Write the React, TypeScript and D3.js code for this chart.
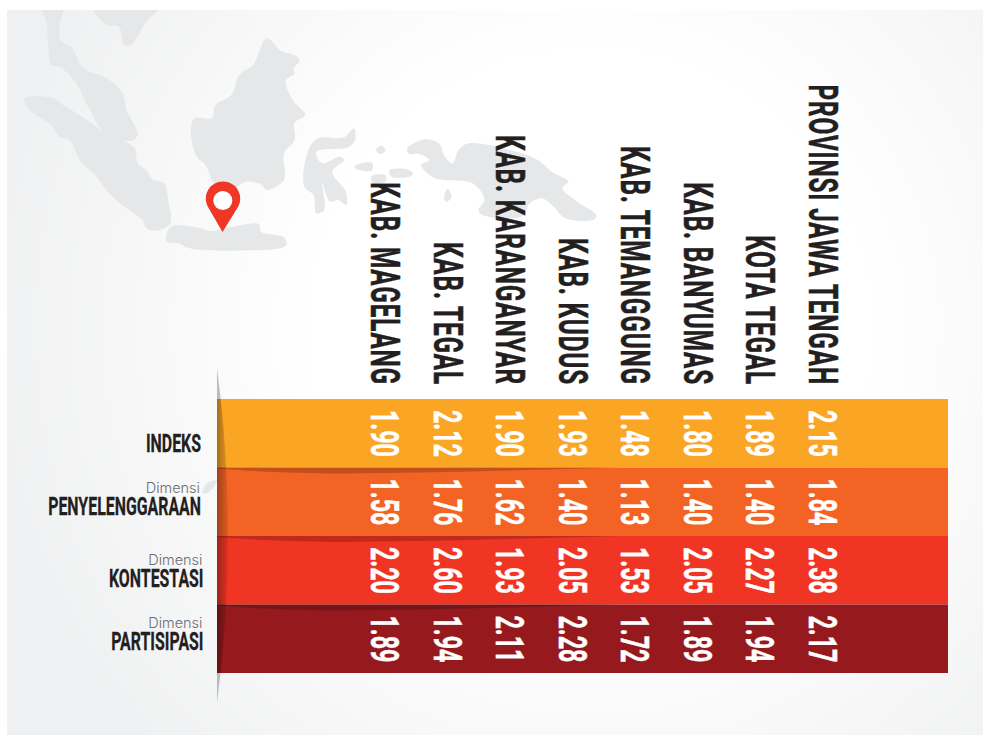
import React from "react";
import * as d3 from "d3";

const regions = ["KAB. MAGELANG", "KAB. TEGAL", "KAB. KARANGANYAR", "KAB. KUDUS", "KAB. TEMANGGUNG", "KAB. BANYUMAS", "KOTA TEGAL", "PROVINSI JAWA TENGAH"];
const rowNames = ["INDEKS", "PENYELENGGARAAN", "KONTESTASI", "PARTISIPASI"];
const rowPrefix = ["", "Dimensi", "Dimensi", "Dimensi"];
const rowColors = ["#FBA525", "#F36323", "#F03525", "#961A1D"];
const indeks = ["1.90", "2.12", "1.90", "1.93", "1.48", "1.80", "1.89", "2.15"];
const penyelenggaraan = ["1.58", "1.76", "1.62", "1.40", "1.13", "1.40", "1.40", "1.84"];
const kontestasi = ["2.20", "2.60", "1.93", "2.05", "1.53", "2.05", "2.27", "2.38"];
const partisipasi = ["1.89", "1.94", "2.11", "2.28", "1.72", "1.89", "1.94", "2.17"];
const rows = [indeks, penyelenggaraan, kontestasi, partisipasi];

const mapShapes = [
  "63,295 130,293 160,315 220,360 262,395 300,415 340,445 348,490 370,510 385,538 415,550 425,600 430,672 395,692 370,685 360,660 320,625 280,585 240,525 205,485 175,420 150,410 130,375 75,330",
  "108,20 118,70 122,140 130,195 150,200 190,245 225,325 262,395 330,423 348,405 320,330 310,280 270,235 210,203 180,140 153,122 150,80 157,20",
  "237,20 270,75 300,80 315,135 330,135 370,65 402,20",
  "675,115 710,152 745,165 758,182 742,205 745,222 723,240 740,300 772,345 745,368 745,420 718,460 718,540 675,570 660,552 622,545 590,565 545,555 520,495 498,470 483,400 492,355 535,355 545,315 585,285 605,225 640,195",
  "432,680 510,685 530,693 590,680 655,672 660,695 718,712 722,738 590,752 480,745 450,730 422,725",
  "895,385 898,420 880,442 800,455 815,490 860,470 870,480 840,515 875,575 875,615 855,600 835,605 815,550 820,630 800,640 793,585 770,560 780,450 805,415 870,412",
  "1030,445 1075,418 1110,430 1125,470 1145,490 1160,450 1185,430 1290,450 1360,480 1395,515 1438,545 1422,565 1460,605 1508,645 1500,660 1430,655 1400,620 1370,595 1340,610 1320,650 1220,645 1210,630 1225,600 1195,550 1100,535 1065,495 1085,480 1060,462 1035,462",
  "897,497 940,488 940,512 900,506",
  "985,510 1030,508 1045,522 1030,532 990,530",
  "940,528 975,526 975,545 942,548",
  "952,445 965,437 975,450 965,462 955,458",
  "1125,580 1132,566 1142,590 1130,605 1124,600",
];
const blob = "M217,480 C208,480 204,485 202,493 C208,495 213,490 217,481 Z";

const x = d3.scalePoint<string>().domain(regions).range([385, 823]);
const y = d3.scaleBand<string>().domain(rowNames).range([399, 673]);
const left = 217;
const right = 948;
const narrow = 0.61;
const valueNarrow = 0.6;
const mapLine = d3.line().curve(d3.curveCatmullRomClosed.alpha(0.5));
const lens = "M217,368 Q239,535 217,703 Z";
const parse = (s: string) => s.split(" ").map((p) => p.split(",").map(Number) as [number, number]);

function Rotated({ cx, end, text, fill, size, sx, spacing = 0 }: any) {
  return (
    <text
      transform={`translate(${cx - 14},${end}) rotate(90) scale(${sx},1)`}
      textAnchor="end"
      fontFamily="Roboto"
      fontWeight={700}
      fontSize={size}
      letterSpacing={spacing}
      fill={fill}
      stroke={fill}
      strokeWidth={0.5}
    >
      {text}
    </text>
  );
}

export default function App() {
  return (
    <svg width={983} height={740} style={{ position: "absolute", left: 0, top: 0, background: "#fff" }}>
      <defs>
        <radialGradient id="bg" gradientUnits="userSpaceOnUse" cx={590} cy={330} r={620}>
          <stop offset="0.45" stopColor="#ffffff" />
          <stop offset="1" stopColor="#eff0f1" />
        </radialGradient>
        <clipPath id="bandsClip">
          <rect x={left} y={399} width={right - left} height={274} />
        </clipPath>
        <clipPath id="cardClip">
          <rect x={7} y={10} width={976} height={725} />
        </clipPath>
        <linearGradient id="fold" x1="0" x2="1" y1="0" y2="0">
          <stop offset="0" stopColor="#000" stopOpacity="0.34" />
          <stop offset="1" stopColor="#000" stopOpacity="0.08" />
        </linearGradient>
      </defs>
      <rect x={7} y={10} width={976} height={725} fill="url(#bg)" />
      <g clipPath="url(#cardClip)">
        <g transform="scale(0.3954,0.3333)" fill="#e6e7e8">
          {mapShapes.map((d, i) => (
            <path key={i} d={mapLine(parse(d)) ?? ""} />
          ))}
        </g>
        <path d={blob} fill="#e6e7e8" />
      </g>
      <path d="M222.5,232 L208,207 A17.2,17.2 0 1 1 238,207 Z" fill="#f03725" />
      <circle cx={222.8} cy={200.5} r={9.5} fill="#fff" />
      <path d={lens} fill="#b9bcc4" />

      {rowNames.map((name, r) => (
        <rect key={name} x={left} y={y(name)} width={right - left} height={y.bandwidth()} fill={rowColors[r]} />
      ))}
      {rowNames.slice(1).map((name) => {
        const t = y(name)!;
        return (
          <path
            key={name}
            d={`M217,${t} L620,${t} C520,${t + 3} 400,${t + 6} 330,${t + 6} C280,${t + 5} 240,${t + 3} 217,${t + 1} Z`}
            fill="#000"
            opacity={0.2}
          />
        );
      })}
      <path d={lens} fill="url(#fold)" clipPath="url(#bandsClip)" />

      {regions.map((name) => (
        <Rotated key={name} cx={x(name)} end={385} text={name} fill="#231f20" size={40} sx={narrow} spacing={1.3} />
      ))}
      {rows.map((vals, r) =>
        vals.map((v, c) => (
          <Rotated
            key={`${r}-${c}`}
            cx={x(regions[c])}
            end={y(rowNames[r])! + 58}
            text={v}
            fill="#fff"
            size={39}
            sx={valueNarrow}
          />
        ))
      )}

      {rowNames.map((name, r) => {
        const endX = r < 2 ? 201 : 203.5;
        const base = [452, 515, 587, 650][r];
        return (
          <g key={name}>
            <text
              transform={`translate(${endX},${base}) scale(0.6,1)`}
              textAnchor="end"
              fontFamily="Roboto"
              fontWeight={700}
              fontSize={26.5}
              fill="#231f20"
              stroke="#231f20"
              strokeWidth={0.3}
            >
              {name}
            </text>
            {rowPrefix[r] && (
              <text x={endX - 1} y={base - 22} textAnchor="end" fontFamily="Inter" fontWeight={300} fontSize={14.5} fill="#6d6e71">
                {rowPrefix[r]}
              </text>
            )}
          </g>
        );
      })}
    </svg>
  );
}
